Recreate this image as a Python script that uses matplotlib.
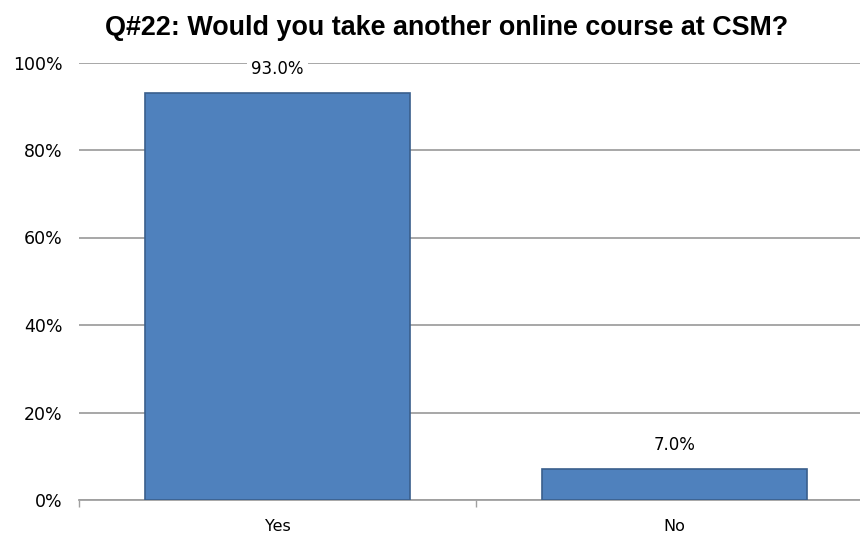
import matplotlib
matplotlib.use("Agg")
import matplotlib.pyplot as plt
from matplotlib.ticker import FuncFormatter, FixedLocator

categories = ["Yes", "No"]
values = [93.0, 7.0]
yticks = [0, 20, 40, 60, 80, 100]
title = "Q#22: Would you take another online course at CSM?"

plt.rcParams['font.family'] = ['DejaVu Sans']

fig = plt.figure(figsize=(8.6, 5.33), dpi=100)
ax = fig.add_axes([79/860, 33/533, 794/860, 437.5/533])

x = list(range(len(categories)))
ax.bar(x, values, width=0.667, color="#4F81BD", edgecolor="#3A5F8C", linewidth=1.2, zorder=3)

ax.set_xlim(-0.5, len(categories) - 0.5)
ax.set_ylim(0, 100)
ax.set_yticks(yticks)
ax.yaxis.set_major_formatter(FuncFormatter(lambda v, p: f"{v:.0f}%"))
ax.grid(axis="y", color="#A0A0A0", linewidth=1.3, zorder=0)
ax.set_axisbelow(True)

for s in ["top", "right", "left"]:
    ax.spines[s].set_visible(False)
ax.spines["bottom"].set_color("#A0A0A0")
ax.spines["bottom"].set_linewidth(1.3)

ax.set_xticks(x)
ax.set_xticklabels(categories, fontsize=11.5)
ax.xaxis.set_minor_locator(FixedLocator([-0.5, 0.5, 1.5]))
ax.tick_params(axis="x", which="major", length=0, pad=14)
ax.tick_params(axis="x", which="minor", length=5, color="#A0A0A0", width=1)
ax.tick_params(axis="y", length=0, labelsize=12.5, pad=12)

for xi, v in zip(x, values):
    ax.annotate(f"{v:.1f}%", (xi, v), xytext=(0, 24), textcoords="offset pixels",
                ha="center", va="center", fontsize=12,
                bbox=dict(boxstyle="square,pad=0.25", fc="white", ec="none"), zorder=4)

fig.text(447/860, 1 - 35/533, title, ha="center", va="baseline", fontsize=19.4,
         fontweight="bold", family=["Liberation Sans", "DejaVu Sans"])

fig.savefig("out.png", dpi=100)
